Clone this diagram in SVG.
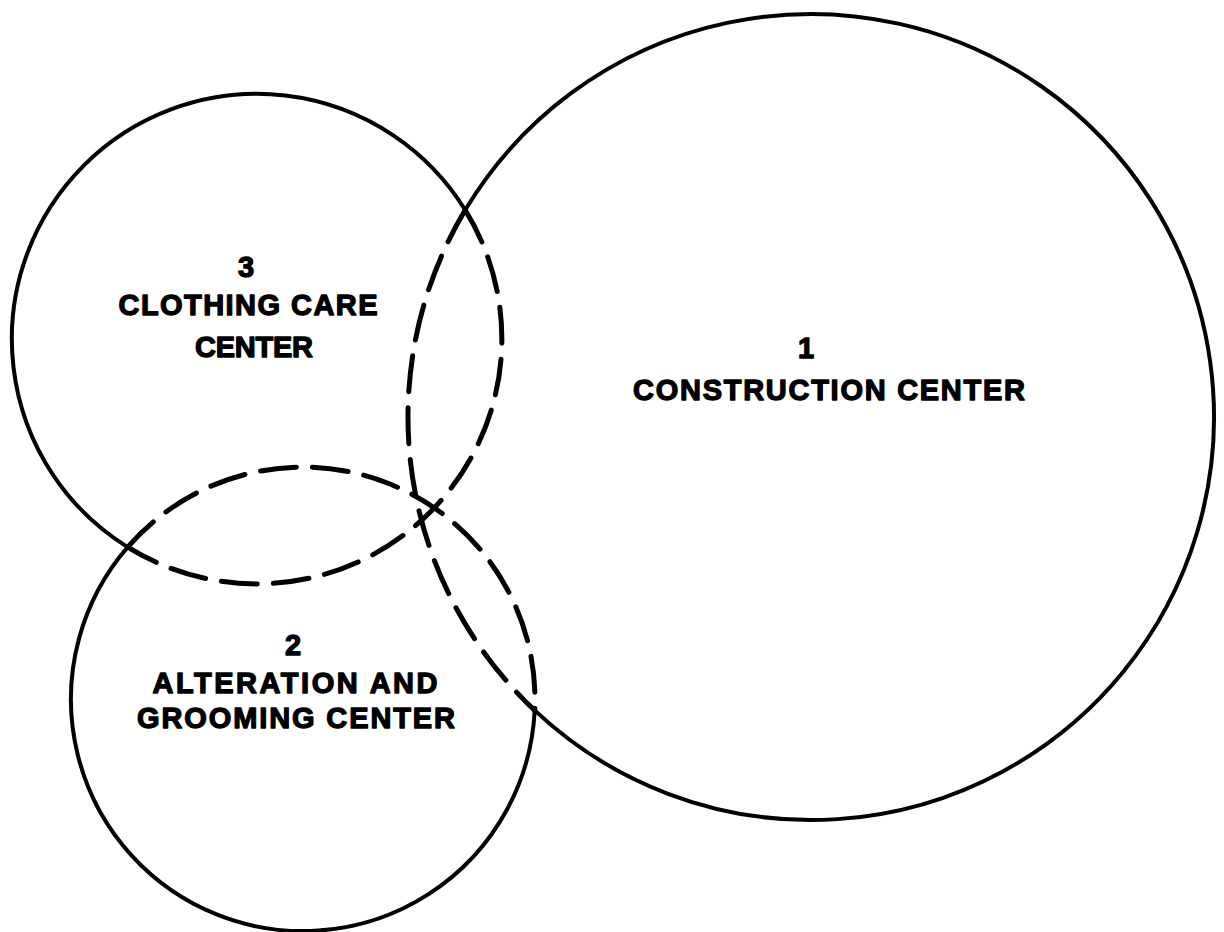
<svg xmlns="http://www.w3.org/2000/svg" width="1224" height="932" viewBox="0 0 1224 932">
<style>
.solid{fill:none;stroke:#000;stroke-width:4}
.dash{fill:none;stroke:#000;stroke-width:5;stroke-dasharray:36 16;stroke-linecap:round}
.lbl{font-family:"Liberation Sans","DejaVu Sans",Arial,sans-serif;font-weight:bold;font-size:29px;fill:#000;stroke:#000;stroke-width:1.3;stroke-linejoin:round;text-anchor:middle}
</style>
<rect width="1224" height="932" fill="#fff"/>
<g id="node-1-construction">
<path class="solid" d="M 534.7 710.4 A 403 403 0 1 0 465.2 210.0"/>
<path class="dash" d="M 465.2 210.0 A 403 403 0 0 0 534.7 710.4"/>
<text class="lbl" x="806" y="358">1</text>
<text class="lbl" x="829" y="400" textLength="392" lengthAdjust="spacing">CONSTRUCTION CENTER</text>
</g>
<g id="node-3-clothing-care">
<path class="solid" d="M 127.7 547.1 A 245 245 0 1 1 465.2 210.0"/>
<path class="dash" d="M 465.2 210.0 A 245 245 0 0 1 127.7 547.1"/>
<text class="lbl" x="246" y="277">3</text>
<text class="lbl" x="248" y="315" textLength="259" lengthAdjust="spacing">CLOTHING CARE</text>
<text class="lbl" x="254" y="357" textLength="118" lengthAdjust="spacing">CENTER</text>
</g>
<g id="node-2-alteration">
<path class="solid" d="M 534.7 710.4 A 232 232 0 1 1 127.7 547.1"/>
<path class="dash" d="M 127.7 547.1 A 232 232 0 0 1 534.7 710.4"/>
<text class="lbl" x="293" y="655">2</text>
<text class="lbl" x="295" y="693" textLength="285" lengthAdjust="spacing">ALTERATION AND</text>
<text class="lbl" x="296" y="728" textLength="318" lengthAdjust="spacing">GROOMING CENTER</text>
</g>
<g id="connectors"></g>
</svg>
